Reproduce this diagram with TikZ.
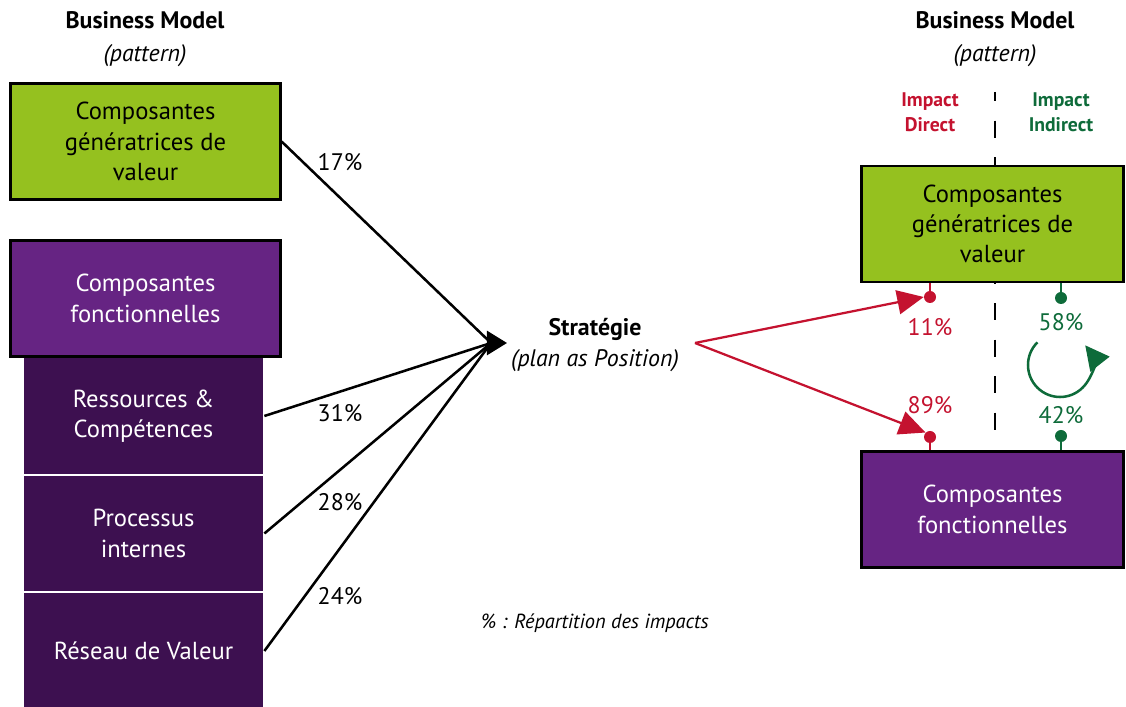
\documentclass[tikz,border=0pt]{standalone}
\usepackage{fontspec}
\setmainfont{PT Sans}
\usetikzlibrary{arrows.meta, positioning}

\definecolor{bmgreen}{HTML}{95C11F}
\definecolor{bmpurple}{HTML}{662483}
\definecolor{bmdark}{HTML}{3D1050}
\definecolor{impred}{HTML}{C4122F}
\definecolor{impgreen}{HTML}{0E6B3A}

\begin{document}
\begin{tikzpicture}[x=0.025cm, y=-0.025cm,
        bm_box/.style={draw=black, line width=1.5pt, minimum height=2.9cm, inner sep=0pt, align=center, font=\fontsize{17.5}{21.5}\selectfont},
        box_green/.style={bm_box, fill=bmgreen},
        box_purple/.style={bm_box, fill=bmpurple, text=white},
        box_sub/.style={fill=bmdark, draw=white, line width=1.2pt, minimum width=6cm, minimum height=2.94cm, inner sep=0pt, align=center, text=white, font=\fontsize{17.5}{21.5}\selectfont},
        title/.style={align=center, font=\fontsize{17}{23}\selectfont},
        pct/.style={font=\fontsize{17}{20}\selectfont},
        impact/.style={align=center, font=\bfseries\fontsize{14}{18}\selectfont},
        dot/.style={circle, inner sep=0pt, minimum size=0.3cm},
        link/.style={line width=1.8pt},
        arrow/.style={-{Triangle[length=0.5cm, width=0.6cm]}, line width=1.8pt},
        arrow_red/.style={-{Triangle[length=0.66cm, width=0.6cm]}, line width=1.6pt, impred}
    ]
    \useasboundingbox (0,0) rectangle (1126,707);

    % ================= Business Model (Left Side) =================
    \node[title] (title_L) at (145, 39) {\textbf{Business Model}\\\textit{(pattern)}};

    \node[box_green, minimum width=6.75cm] (value_L) at (145.5, 141.5) {Composantes\\génératrices de\\valeur};

    \node[box_sub] (res_L) at (143.5, 416) {Ressources \&\\Compétences};
    \node[box_sub] (proc_L) at (143.5, 533.5) {Processus\\internes};
    \node[box_sub] (net_L) at (143.5, 651) {Réseau de Valeur};

    \node[box_purple, minimum width=6.75cm] (func_L) at (145.5, 298.5) {Composantes\\fonctionnelles};

    % ================= Strategy (Center) =================
    \node[title, font=\fontsize{17}{22}\selectfont] (strat) at (595, 345) {\textbf{Stratégie}\\\textit{(plan as Position)}};
    \coordinate (strat_join) at (491, 343);
    \coordinate (strat_in) at (507, 343);
    \coordinate (strat_out) at (695, 343);

    % Impacts of the components on the strategy
    \draw[link] (value_L.east) -- (strat_join);
    \draw[link] (res_L.east) -- (strat_join);
    \draw[link] (proc_L.east) -- (strat_join);
    \draw[link] (net_L.east) -- (strat_join);
    \draw[arrow] (strat_join) -- (strat_in);

    \node[pct] (p17) at (340, 162) {17\%};
    \node[pct] (p31) at (340, 413) {31\%};
    \node[pct] (p28) at (340, 502) {28\%};
    \node[pct] (p24) at (340, 596) {24\%};

    \node[font=\itshape\fontsize{14.5}{17}\selectfont] (legend) at (595, 623) {\% : Répartition des impacts};

    % ================= Business Model (Right Side) =================
    \node[title] (title_R) at (995, 39) {\textbf{Business Model}\\\textit{(pattern)}};

    % Divider between direct and indirect impact
    \draw[line width=2pt, dash pattern=on 0.425cm off 0.4875cm, dash phase=0.2cm] (995, 92) -- (995, 432);

    \node[impact, text=impred] (direct) at (930, 112) {Impact\\Direct};
    \node[impact, text=impgreen] (indirect) at (1061, 112) {Impact\\Indirect};

    \node[box_green, minimum width=6.55cm] (value_R) at (992.5, 224) {Composantes\\génératrices de\\valeur};
    \node[box_purple, minimum width=6.55cm] (func_R) at (992.5, 509.5) {Composantes\\fonctionnelles};

    % Direct impact (red)
    \node[dot, fill=impred] (d_top) at (930, 297) {};
    \node[dot, fill=impred] (d_bot) at (930, 437) {};
    \draw[impred, line width=1.6pt] (d_top) -- (d_top |- value_R.south);
    \draw[impred, line width=1.6pt] (d_bot) -- (d_bot |- func_R.north);
    \draw[arrow_red] (strat_out) -- (d_top.west);
    \draw[arrow_red] (strat_out) -- (d_bot.north west);
    \node[pct, text=impred] (p11) at (930, 327) {11\%};
    \node[pct, text=impred] (p89) at (930, 405) {89\%};

    % Indirect impact (green)
    \node[dot, fill=impgreen] (i_top) at (1061, 298) {};
    \node[dot, fill=impgreen] (i_bot) at (1061, 436) {};
    \draw[impgreen, line width=1.6pt] (i_top) -- (i_top |- value_R.south);
    \draw[impgreen, line width=1.6pt] (i_bot) -- (i_bot |- func_R.north);
    \node[pct, text=impgreen] (p58) at (1061, 322) {58\%};
    \node[pct, text=impgreen] (p42) at (1061, 415) {42\%};

    \coordinate (loop) at (1060, 365);
    \draw[impgreen, line width=1.8pt, -{Triangle[length=0.6cm, width=0.6cm]}] ([shift={(225:32)}]loop) arc[start angle=225, end angle=-38, radius=32];

\end{tikzpicture}
\end{document}
